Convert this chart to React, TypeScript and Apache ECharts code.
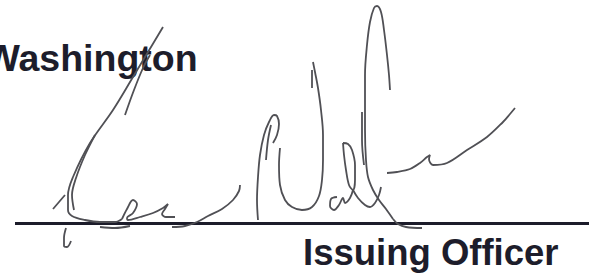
import React, { useEffect, useRef } from "react";
import * as echarts from "echarts";

const W = 589;
const H = 273;

const placeText = "Washington";
const roleText = "Issuing Officer";

// Signature line (pixel space)
const signLine: number[][] = [[15, 223.5], [589, 223.5]];

// Signature pen strokes (pixel space, y downward)
const strokeK1: number[][] = [[163, 27], [148, 52], [133, 77], [113, 110], [90, 143], [73, 177], [68, 195], [68, 210], [72, 216], [85, 220], [100, 222], [115, 222], [122, 219]];
const strokeK2: number[][] = [[150, 55], [143, 68], [134, 90], [125, 115]];
const strokeK3: number[][] = [[95, 135], [85, 155], [76, 178], [72, 195], [74, 210]];
const strokeTick: number[][] = [[53, 209], [59, 202], [65, 195]];
const strokeDesc: number[][] = [[66, 228], [64, 238], [64, 246], [67, 247], [71, 241]];
const strokeE: number[][] = [[122, 219], [127, 209], [133, 200], [137, 204], [133, 213], [127, 218], [128, 220], [140, 217], [153, 213], [163, 208], [168, 204], [165, 209], [162, 214], [166, 217], [175, 217]];
const strokeUnder1: number[][] = [[100, 227], [115, 228], [130, 226]];
const strokeC: number[][] = [[172, 227], [185, 226], [197, 222], [208, 216], [222, 209], [233, 200], [239, 191], [240, 185]];
const strokeLoop1: number[][] = [[258, 220], [257, 200], [258, 177], [260, 155], [264, 135], [269, 122], [274, 115], [277, 116], [279, 124], [277, 135], [273, 143]];
const strokeLoop1In: number[][] = [[271, 125], [268, 140], [266, 160]];
const strokeU: number[][] = [[280, 148], [279, 165], [280, 185], [285, 200], [292, 207], [302, 210], [312, 207], [319, 196], [322, 180], [323, 160], [323, 135], [321, 110], [318, 88], [315, 72], [313, 62]];
const strokeUTick: number[][] = [[312, 70], [312, 88]];
const strokeBig: number[][] = [[393, 219], [386, 209], [379, 200], [373, 190], [368, 177], [366, 160], [365, 130], [365, 100], [365, 75], [367, 45], [370, 22], [374, 8], [377, 6], [381, 12], [384, 30], [387, 55], [389, 75], [390, 90]];
const strokeBigIn: number[][] = [[362, 112], [362, 140], [364, 165]];
const strokeLeaf: number[][] = [[343, 143], [348, 144], [352, 150], [355, 165], [355, 180], [353, 190], [349, 185], [346, 170], [344, 155], [343, 143]];
const strokeA: number[][] = [[337, 197], [331, 199], [330, 206], [334, 210], [339, 205], [343, 198], [345, 203], [350, 198], [353, 190]];
const strokeX: number[][] = [[353, 190], [358, 198], [365, 205], [370, 207], [375, 203], [379, 195], [381, 187]];
const strokeTail: number[][] = [[387, 173], [397, 172], [410, 169], [420, 163], [427, 157], [430, 155], [429, 159], [433, 165], [447, 163], [467, 150], [487, 137], [503, 122], [510, 114], [515, 108]];
const strokeUnder2: number[][] = [[393, 219], [398, 224], [406, 227], [422, 228]];

const strokes: number[][][] = [
  strokeK1, strokeK2, strokeK3, strokeTick, strokeDesc, strokeE, strokeUnder1, strokeC,
  strokeLoop1, strokeLoop1In, strokeU, strokeUTick, strokeBig, strokeBigIn, strokeLeaf,
  strokeA, strokeX, strokeTail, strokeUnder2,
];

export default function App() {
  const ref = useRef<HTMLDivElement>(null);
  useEffect(() => {
    if (!ref.current) return;
    const chart = echarts.init(ref.current, null, { renderer: "svg" });
    const series: any[] = strokes.map((s) => ({
      type: "line",
      data: s,
      smooth: 0.35,
      showSymbol: false,
      symbol: "none",
      silent: true,
      lineStyle: { color: "#505055", width: 1.8 },
      z: 3,
    }));
    series.push({
      type: "line",
      data: signLine,
      showSymbol: false,
      symbol: "none",
      silent: true,
      lineStyle: { color: "#1c1c2a", width: 3 },
      z: 2,
    });
    chart.setOption({
      animation: false,
      backgroundColor: "#ffffff",
      grid: { left: 0, right: 0, top: 0, bottom: 0 },
      xAxis: { type: "value", min: 0, max: W, show: false },
      yAxis: { type: "value", min: 0, max: H, inverse: true, show: false },
      series,
      graphic: [
        {
          type: "text",
          x: -15.5,
          y: 58,
          z: 1,
          style: {
            text: placeText,
            font: "bold 37.5px 'Liberation Sans', Arial, sans-serif",
            fill: "#1d1d2b",
            verticalAlign: "middle",
            align: "left",
          },
        },
        {
          type: "text",
          x: 303,
          y: 252.3,
          z: 1,
          style: {
            text: roleText,
            font: "bold 36.5px 'Liberation Sans', Arial, sans-serif",
            fill: "#1d1d2b",
            verticalAlign: "middle",
            align: "left",
          },
        },
      ],
    });
    return () => chart.dispose();
  }, []);
  return (
    <div
      ref={ref}
      style={{ position: "fixed", left: 0, top: 0, width: W, height: H, background: "#fff" }}
    />
  );
}
